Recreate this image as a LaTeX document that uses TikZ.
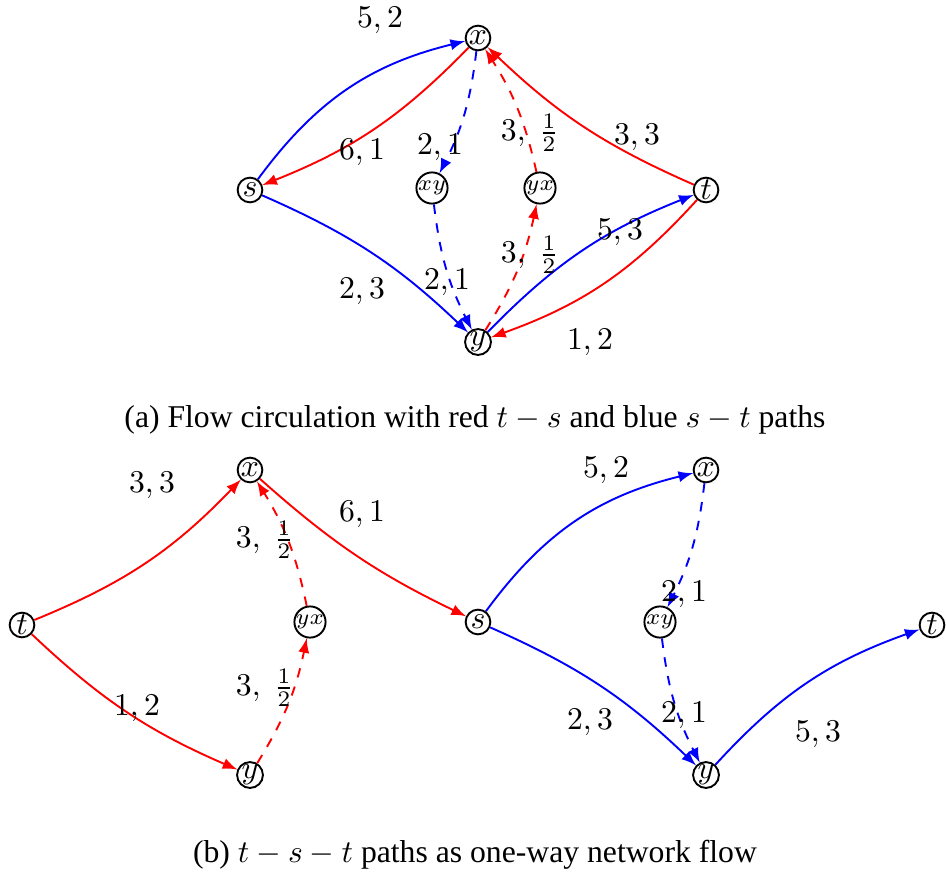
\documentclass[tikz,border=0pt]{standalone}
\usepackage[no-math]{fontspec}
\setmainfont{Liberation Serif}
\usetikzlibrary{arrows}

\begin{document}
\begin{tikzpicture}[x=0.0111cm, y=-0.0111cm,
    vertex/.style={circle, draw, semithick, minimum size=7.8pt, inner sep=0pt},
    small/.style={vertex, font=\scriptsize},
    redflow/.style={draw=red, ->, >=latex, semithick},
    blueflow/.style={draw=blue, ->, >=latex, semithick},
    lbl/.style={inner sep=1pt}
]
\useasboundingbox (0,0) rectangle (946,872);

% (a) circulation
\node[vertex] (s) at (250,190) {$s$};
\node[vertex] (x) at (478,38) {$x$};
\node[small] (xy) at (432,188) {$xy$};
\node[small] (yx) at (540,188) {$yx$};
\node[vertex] (t) at (706,190) {$t$};
\node[vertex] (y) at (478,342) {$y$};

\draw[blueflow] (s) to[bend left=20] (x);
\draw[redflow] (x) to[bend left=12] (s);
\draw[blueflow, dashed] (x) to[bend left=10] (xy);
\draw[blueflow, dashed] (xy) to[bend right=10] (y);
\draw[redflow, dashed] (y) to[bend right=10] (yx);
\draw[redflow, dashed] (yx) to[bend right=10] (x);
\draw[redflow] (t) to[bend left=10] (x);
\draw[blueflow] (s) to[bend left=10] (y);
\draw[blueflow] (y) to[bend left=12] (t);
\draw[redflow] (t) to[bend left=14] (y);

\node[lbl] (a-sx) at (380,20) {$5,2$};
\node[lbl] (a-xs) at (362,152) {$6,1$};
\node[lbl] (a-xxy) at (440,147) {$2,1$};
\node[lbl] (a-xyy) at (447,282) {$2,1$};
\node[lbl] (a-yyx) at (530,255) {$3,\ \frac{1}{2}$};
\node[lbl] (a-yxx) at (530,133) {$3,\ \frac{1}{2}$};
\node[lbl] (a-tx) at (637,137) {$3,3$};
\node[lbl] (a-sy) at (362,291) {$2,3$};
\node[lbl] (a-yt) at (620,232) {$5,3$};
\node[lbl] (a-ty) at (590,342) {$1,2$};

\node (capa) at (475,420) {(a) Flow circulation with red $t-s$ and blue $s-t$ paths};

% (b) one-way flow
\node[vertex] (bt) at (22,625) {$t$};
\node[vertex] (bx) at (250,470) {$x$};
\node[small] (byx) at (310,622) {$yx$};
\node[vertex] (by) at (250,775) {$y$};
\node[vertex] (bs) at (478,622) {$s$};
\node[vertex] (bx2) at (706,470) {$x$};
\node[small] (bxy2) at (660,622) {$xy$};
\node[vertex] (by2) at (706,775) {$y$};
\node[vertex] (bt2) at (932,625) {$t$};

\draw[redflow] (bt) to[bend right=12] (bx);
\draw[redflow] (bt) to[bend right=10] (by);
\draw[redflow, dashed] (by) to[bend right=10] (byx);
\draw[redflow, dashed] (byx) to[bend right=10] (bx);
\draw[redflow] (bx) to[bend right=8] (bs);
\draw[blueflow] (bs) to[bend left=20] (bx2);
\draw[blueflow, dashed] (bx2) to[bend left=10] (bxy2);
\draw[blueflow, dashed] (bxy2) to[bend right=10] (by2);
\draw[blueflow] (bs) to[bend left=10] (by2);
\draw[blueflow] (by2) to[bend left=14] (bt2);

\node[lbl] (b-tx) at (152,485) {$3,3$};
\node[lbl] (b-ty) at (137,708) {$1,2$};
\node[lbl] (b-yyx) at (265,688) {$3,\ \frac{1}{2}$};
\node[lbl] (b-yxx) at (265,540) {$3,\ \frac{1}{2}$};
\node[lbl] (b-xs) at (362,514) {$6,1$};
\node[lbl] (b-sx) at (606,470) {$5,2$};
\node[lbl] (b-xxy) at (684,594) {$2,1$};
\node[lbl] (b-xyy) at (684,715) {$2,1$};
\node[lbl] (b-sy) at (590,722) {$2,3$};
\node[lbl] (b-yt) at (818,734) {$5,3$};

\node (capb) at (475,855) {(b) $t-s-t$ paths as one-way network flow};
\end{tikzpicture}
\end{document}
